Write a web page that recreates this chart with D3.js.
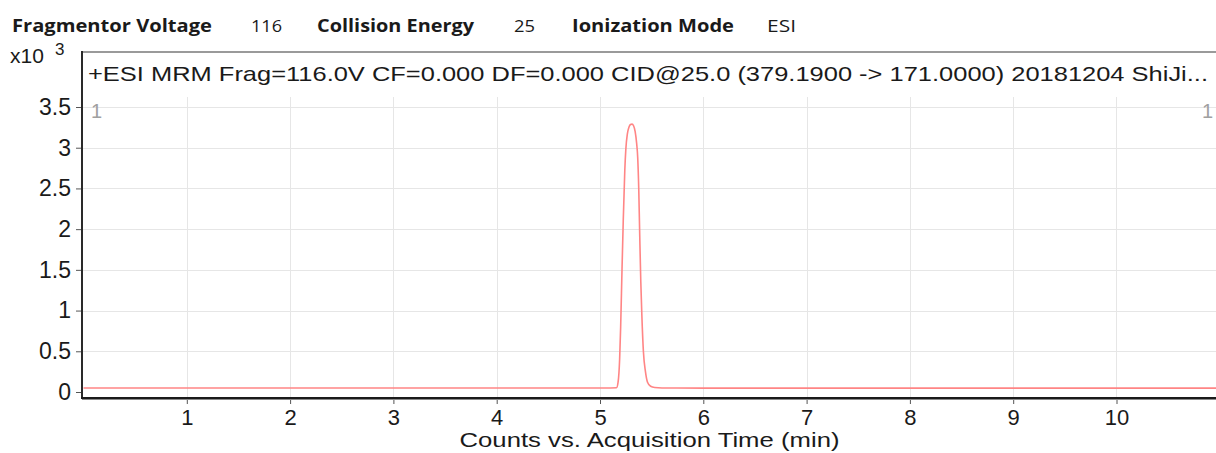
<!DOCTYPE html>
<html>
<head>
<meta charset="utf-8">
<script src="https://cdn.jsdelivr.net/npm/d3@7"></script>
<style>
  body { margin: 0; background: #fff; }
  svg { display: block; font-family: "Liberation Sans", Arial, sans-serif; }
</style>
</head>
<body>
<svg id="chart" width="1216" height="453"></svg>
<script>
//Header fields shown above the chromatogram
var headerLabels = ["Fragmentor Voltage", "Collision Energy", "Ionization Mode"];
var headerValues = ["116", "25", "ESI"];

var traceTitle = "+ESI MRM Frag=116.0V CF=0.000 DF=0.000 CID@25.0 (379.1900 -> 171.0000) 20181204 ShiJi...";
var xTitle = "Counts vs. Acquisition Time (min)";

//Tick values
var xTicks = [1, 2, 3, 4, 5, 6, 7, 8, 9, 10];
var yTicks = [0, 0.5, 1, 1.5, 2, 2.5, 3, 3.5];

//Trace: time (min) and counts (x10^3)
var times  = [0, 1, 2, 3, 4, 5, 5.10, 5.16, 5.175, 5.19, 5.20, 5.213, 5.225, 5.24, 5.25, 5.265, 5.28, 5.295, 5.31, 5.325, 5.34, 5.355, 5.365, 5.375, 5.385, 5.395, 5.405, 5.42, 5.44, 5.46, 5.49, 5.53, 5.6, 6, 7, 8, 9, 10, 11];
var counts = [0.05, 0.05, 0.05, 0.05, 0.05, 0.05, 0.05, 0.052, 0.12, 0.4, 0.8, 1.5, 2.1, 2.72, 2.98, 3.17, 3.25, 3.285, 3.29, 3.27, 3.2, 3.05, 2.88, 2.5, 1.9, 1.35, 0.95, 0.5, 0.25, 0.12, 0.07, 0.055, 0.05, 0.048, 0.048, 0.048, 0.048, 0.048, 0.048];

var svg = d3.select("#chart");

var plot = {left: 82, right: 1219, top: 97, bottom: 398, boxTop: 52};

var x = d3.scaleLinear().domain([0, 11]).range([83.5, 1219.8]);
var y = d3.scaleLinear().domain([0, 3.5]).range([392, 107]);

//Header row
var headerX = [12, 317, 572];
var headerW = [200, 157, 162];
var valueX = [251, 514, 767];
var valueW = [31, 21, 29];
var header = svg.append("g").attr("fill", "#1a1a1a").attr("font-family", "'Open Sans', 'Noto Sans', sans-serif");
headerLabels.forEach(function(lab, i) {
  header.append("text")
    .attr("x", headerX[i]).attr("y", 32)
    .attr("font-size", 17).attr("font-weight", "bold")
    .attr("textLength", headerW[i]).attr("lengthAdjust", "spacingAndGlyphs")
    .text(lab);
  header.append("text")
    .attr("x", valueX[i]).attr("y", 32)
    .attr("font-size", 16)
    .attr("textLength", valueW[i]).attr("lengthAdjust", "spacingAndGlyphs")
    .text(headerValues[i]);
});

//Gridlines
var grid = svg.append("g").attr("stroke", "#e6e6e6").attr("stroke-width", 1);
grid.selectAll("line.v").data(xTicks).enter().append("line")
  .attr("x1", function(d) { return Math.round(x(d)) + 0.5; })
  .attr("x2", function(d) { return Math.round(x(d)) + 0.5; })
  .attr("y1", plot.top).attr("y2", plot.bottom);
grid.selectAll("line.h").data(yTicks.slice(1)).enter().append("line")
  .attr("x1", plot.left).attr("x2", plot.right)
  .attr("y1", function(d) { return Math.round(y(d)) + 0.5; })
  .attr("y2", function(d) { return Math.round(y(d)) + 0.5; });

//Title box border
svg.append("line")
  .attr("x1", plot.left - 1).attr("x2", 1216)
  .attr("y1", plot.boxTop).attr("y2", plot.boxTop)
  .attr("stroke", "#9a9a9a").attr("stroke-width", 2);

svg.append("text")
  .attr("x", 88).attr("y", 81)
  .attr("font-size", 21).attr("fill", "#1a1a1a")
  .attr("textLength", 1120).attr("lengthAdjust", "spacingAndGlyphs")
  .text(traceTitle);

//Trace
var line = d3.line()
  .x(function(d) { return x(d[0]); })
  .y(function(d) { return y(d[1]); })
  .curve(d3.curveMonotoneX);

svg.append("path")
  .datum(d3.zip(times, counts))
  .attr("fill", "none")
  .attr("stroke", "#ff8585")
  .attr("stroke-width", 1.6)
  .attr("d", line);

//Axes
var xAxis = svg.append("g")
  .attr("transform", "translate(0," + plot.bottom + ")")
  .call(d3.axisBottom(x).tickValues(xTicks).tickSize(6).tickPadding(5).tickFormat(d3.format("d")));
xAxis.select(".domain").remove();
xAxis.selectAll(".tick line").attr("stroke", "#555");
xAxis.selectAll(".tick text").attr("font-size", 22).attr("fill", "#1a1a1a").attr("font-family", "'Liberation Sans', Arial, sans-serif");

var yAxis = svg.append("g")
  .attr("transform", "translate(" + plot.left + ",0)")
  .call(d3.axisLeft(y).tickValues(yTicks).tickSize(6).tickPadding(5).tickFormat(d3.format("~g")));
yAxis.select(".domain").remove();
yAxis.selectAll(".tick line").attr("stroke", "#555");
yAxis.selectAll(".tick text").attr("font-size", 23).attr("fill", "#1a1a1a").attr("font-family", "'Liberation Sans', Arial, sans-serif");

//Frame lines: left and bottom
svg.append("line")
  .attr("x1", plot.left).attr("x2", plot.left)
  .attr("y1", plot.boxTop - 1).attr("y2", plot.bottom + 1)
  .attr("stroke", "#2a2a2a").attr("stroke-width", 2);
svg.append("line")
  .attr("x1", plot.left - 1).attr("x2", 1216)
  .attr("y1", plot.bottom).attr("y2", plot.bottom)
  .attr("stroke", "#1a1a1a").attr("stroke-width", 2);
svg.append("line")
  .attr("x1", plot.left).attr("x2", 1216)
  .attr("y1", plot.bottom + 1.5).attr("y2", plot.bottom + 1.5)
  .attr("stroke", "#888").attr("stroke-width", 1);

//Scale marker and pane numbers
var mult = svg.append("text").attr("x", 10).attr("y", 63).attr("font-size", 21).attr("fill", "#1a1a1a");
mult.append("tspan").text("x10");
mult.append("tspan").attr("x", 55).attr("y", 55).attr("font-size", 17).text("3");

svg.append("text").attr("x", 91).attr("y", 118).attr("font-size", 20).attr("fill", "#a0a0a0").text("1");
svg.append("text").attr("x", 1213).attr("y", 118).attr("text-anchor", "end").attr("font-size", 20).attr("fill", "#a0a0a0").text("1");

//X axis title
svg.append("text")
  .attr("x", (plot.left + plot.right) / 2 - 1).attr("y", 447)
  .attr("text-anchor", "middle")
  .attr("font-size", 21).attr("fill", "#1a1a1a")
  .attr("textLength", 380).attr("lengthAdjust", "spacingAndGlyphs")
  .text(xTitle);
</script>
</body>
</html>
